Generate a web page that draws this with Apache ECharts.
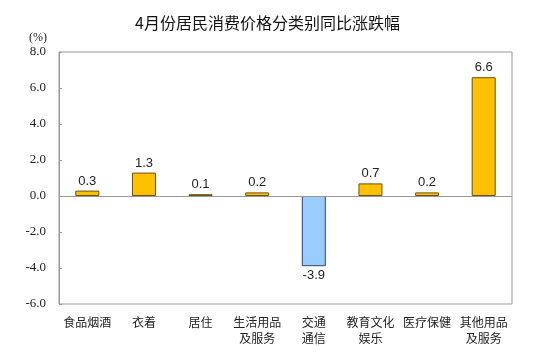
<!DOCTYPE html>
<html>
<head>
<meta charset="utf-8">
<script src="https://cdn.jsdelivr.net/npm/echarts@6/dist/echarts.min.js"></script>
<style>
  html, body { margin: 0; padding: 0; background: #fff; }
  #app { width: 542px; height: 352px; }
</style>
</head>
<body>
<div id="app"></div>
<script>
// 类别与数值
var categories = ['食品烟酒', '衣着', '居住', '生活用品\n及服务', '交通\n通信', '教育文化\n娱乐', '医疗保健', '其他用品\n及服务'];
var values = [0.3, 1.3, 0.1, 0.2, -3.9, 0.7, 0.2, 6.6];
var yTicks = [-6, -4, -2, 0, 2, 4, 6, 8];

var serif = '"Liberation Serif", "DejaVu Serif", serif';

var myEchart = echarts.init(document.getElementById('app'));

myEchart.setOption({
    animation: false,
    title: {
        text: '4月份居民消费价格分类别同比涨跌幅',
        left: 130,
        top: 10,
        textStyle: {
            fontFamily: 'Noto Sans CJK SC',
            fontSize: 16,
            fontWeight: 'normal',
            color: '#111'
        }
    },
    grid: {
        left: 59,
        right: 30,
        top: 52,
        bottom: 48,
        show: true,
        borderColor: '#999',
        borderWidth: 1
    },
    xAxis: {
        type: 'category',
        data: categories,
        axisLine: { show: false },
        axisTick: { show: false },
        axisLabel: {
            interval: 0,
            margin: 10,
            fontFamily: 'Noto Sans CJK SC',
            fontSize: 12,
            lineHeight: 16,
            color: '#222',
            verticalAlign: 'top'
        }
    },
    yAxis: {
        type: 'value',
        min: yTicks[0],
        max: yTicks[yTicks.length - 1],
        interval: 2,
        name: '(%)',
        nameLocation: 'end',
        nameGap: 8,
        nameTextStyle: {
            fontFamily: serif,
            fontSize: 12,
            color: '#222',
            align: 'right',
            padding: [0, 12, 0, 0]
        },
        axisLine: { show: true, lineStyle: { color: '#999' } },
        axisTick: { show: true, inside: true, length: 3, lineStyle: { color: '#999' } },
        splitLine: { show: false },
        axisLabel: {
            fontFamily: serif,
            fontSize: 13,
            color: '#222',
            margin: 13,
            formatter: function (v) { return v.toFixed(1); }
        }
    },
    series: [{
        type: 'bar',
        barWidth: 24,
        data: values.map(function (v) {
            return {
                value: v,
                itemStyle: {
                    color: v < 0 ? '#99CCFF' : '#FFC000',
                    borderColor: v < 0 ? '#334466' : '#6b5010',
                    borderWidth: 1
                },
                label: { position: v < 0 ? 'bottom' : 'top' }
            };
        }),
        label: {
            show: true,
            distance: 3,
            fontFamily: 'Liberation Sans',
            fontSize: 13,
            color: '#222',
            formatter: function (p) { return p.value.toFixed(1); }
        },
        markLine: {
            silent: true,
            symbol: 'none',
            label: { show: false },
            lineStyle: { color: '#999', type: 'solid', width: 1 },
            data: [{ yAxis: 0 }]
        }
    }]
});
</script>
</body>
</html>
